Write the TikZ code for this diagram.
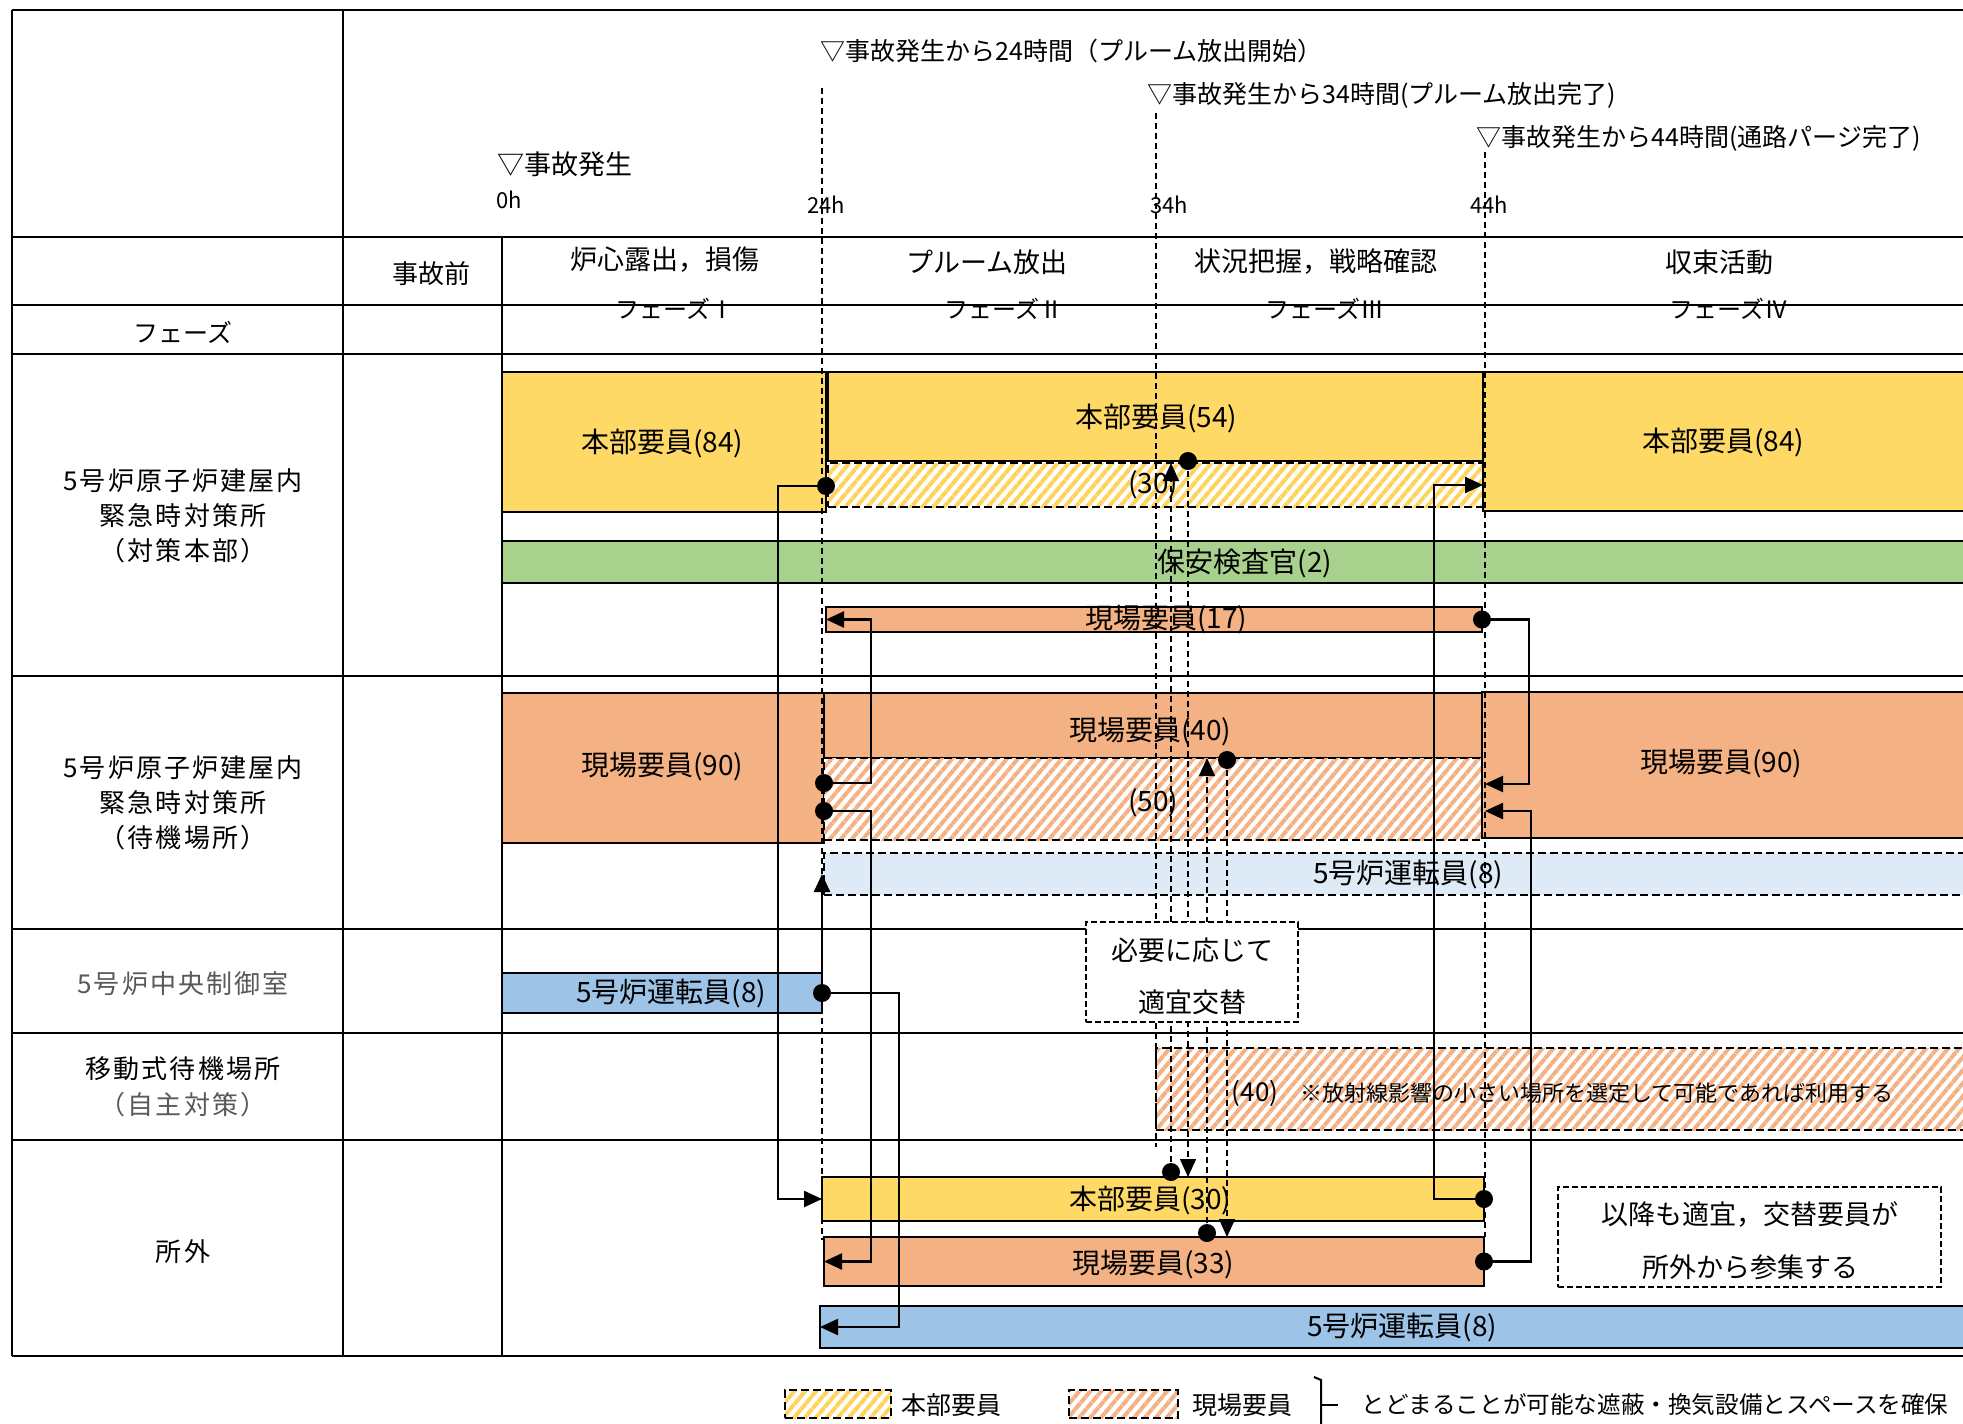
\documentclass[tikz,border=0pt]{standalone}
\usepackage{fontspec}
\setmainfont{Noto Sans CJK JP}
\newfontfamily\lblfont[LetterSpace=8]{Noto Sans CJK JP}
\usetikzlibrary{arrows.meta,patterns.meta}
\definecolor{cyel}{HTML}{FFD966}
\definecolor{cgrn}{HTML}{A9D18E}
\definecolor{csal}{HTML}{F4B183}
\definecolor{clbl}{HTML}{DEEBF7}
\definecolor{cblu}{HTML}{9DC3E6}
\definecolor{hyel}{HTML}{FFD35A}
\definecolor{hsal}{HTML}{F4B183}
\definecolor{cgray}{HTML}{595959}
\newcommand{\myfs}[1]{\fontsize{#1}{#1}\selectfont}
\newcommand{\barbox}[6]{%
  \pgfmathsetmacro{\bxc}{(#2+#4)/2}%
  \pgfmathsetmacro{\byc}{(#3+#5)/2}%
  \pgfmathsetmacro{\bxw}{(#4-#2)/2}%
  \pgfmathsetmacro{\byh}{(#5-#3)/2}%
  \node[#6, minimum width=\bxw pt, minimum height=\byh pt] (#1) at (\bxc,\byc) {};}
\tikzset{
  barb/.style={rectangle, draw=black, line width=1pt, inner sep=0pt, outer sep=0pt},
  dashb/.style={barb, dash pattern=on 4pt off 2pt},
  hatchY/.style={dashb, preaction={fill=white}, pattern={Lines[angle=50,distance=4.2pt,line width=2pt]}, pattern color=hyel},
  hatchS/.style={dashb, preaction={fill=white}, pattern={Lines[angle=50,distance=4.2pt,line width=2pt]}, pattern color=hsal},
  tgrid/.style={line width=1.4pt, black},
  tline/.style={line width=0.6pt, dash pattern=on 3pt off 2pt},
  conn/.style={line width=1.2pt, -{Triangle[length=9pt,width=8pt]}},
  dconn/.style={line width=0.7pt, dash pattern=on 3pt off 2pt, -{Triangle[length=9pt,width=8pt]}},
  lbl/.style={inner sep=0pt, font=\myfs{14pt}},
  tmark/.style={anchor=west, inner sep=0pt, font=\myfs{12.5pt}},
  hrs/.style={anchor=west, inner sep=0pt, font=\myfs{11pt}},
  ph/.style={inner sep=0pt, font=\myfs{13.5pt}},
  phn/.style={inner sep=0pt, font=\myfs{12pt}},
  rowl/.style={inner sep=0pt, align=center, font=\lblfont\fontsize{13pt}{17.5pt}\selectfont},
  notet/.style={inner sep=0pt, font=\myfs{13.5pt}},
  dotc/.style={fill=black},
}
\begin{document}
\begin{tikzpicture}[x=0.5pt,y=-0.5pt]
\useasboundingbox (0,0) rectangle (1963,1423);
\fill[white] (0,0) rectangle (1963,1423);
\clip (0,0) rectangle (1963,1423);

% ---------- table grid ----------
\foreach \yy in {10,237,305,354,676,929,1033,1140,1356}
  \draw[tgrid] (12,\yy) -- (1975,\yy);
\draw[tgrid] (12,10) -- (12,1356);
\draw[tgrid] (343,10) -- (343,1356);
\draw[tgrid] (502,237) -- (502,1356);

% ---------- header texts ----------
\node[tmark] (m24) at (820,51) {▽事故発生から24時間（プルーム放出開始）};
\node[tmark] (m34) at (1147,95) {▽事故発生から34時間(プルーム放出完了)};
\node[tmark] (m44) at (1476,138) {▽事故発生から44時間(通路パージ完了)};
\node[tmark, font=\myfs{13.5pt}] (m0) at (497,164) {▽事故発生};
\node[hrs] (h0) at (496,200) {0h};
\node[hrs] (h24) at (807,205) {24h};
\node[hrs] (h34) at (1150,205) {34h};
\node[hrs] (h44) at (1470,205) {44h};

\node[ph] (p1) at (665,260) {炉心露出，損傷};
\node[ph] (p2) at (987,262) {プルーム放出};
\node[ph] (p3) at (1316,262) {状況把握，戦略確認};
\node[ph] (p4) at (1719,262) {収束活動};
\node[phn] (f1) at (675,309) {フェーズⅠ};
\node[phn] (f2) at (1004,309) {フェーズⅡ};
\node[phn] (f3) at (1325,309) {フェーズⅢ};
\node[phn] (f4) at (1729,309) {フェーズⅣ};
\node[ph, font=\myfs{13pt}] (pre) at (431,274) {事故前};
\node[ph, font=\myfs{12.5pt}] (fz) at (183,332) {フェーズ};

% ---------- row labels ----------
\node[rowl] (r1) at (183,516) {5号炉原子炉建屋内\\緊急時対策所\\（対策本部）};
\node[rowl] (r2) at (183,803) {5号炉原子炉建屋内\\緊急時対策所\\（待機場所）};
\node[rowl, text=cgray] (r3) at (183,984) {5号炉中央制御室};
\node[rowl] (r4) at (183,1069) {移動式待機場所};
\node[rowl, text=cgray] (r4b) at (183,1105) {（自主対策）};
\node[rowl] (r5) at (183,1252) {所外};

% ---------- bars: row 1 ----------
\barbox{hqL}{502}{372}{826}{512}{barb,fill=cyel}
\barbox{hq54}{828}{372}{1483}{461}{barb,fill=cyel}
\barbox{h30}{828}{463}{1483}{507}{hatchY}
\barbox{hqR}{1483}{372}{1980}{511}{barb,fill=cyel}
\barbox{sec}{502}{541}{1980}{583}{barb,fill=cgrn}
\barbox{gen17}{826}{607}{1482}{632}{barb,fill=csal}
\node[lbl] (thqL) at (662,443) {本部要員(84)};
\node[lbl] (thq54) at (1156,418) {本部要員(54)};
\node[lbl] (th30) at (1153,485) {(30)};
\node[lbl] (thqR) at (1723,442) {本部要員(84)};
\node[lbl] (tsec) at (1245,563) {保安検査官(2)};
\node[lbl] (tgen17) at (1166,620) {現場要員(17)};

% ---------- bars: row 2 ----------
\barbox{genL}{502}{693}{824}{843}{barb,fill=csal}
\barbox{gen40}{824}{693}{1483}{758}{barb,fill=csal}
\barbox{h50}{824}{758}{1483}{840}{hatchS}
\barbox{genR}{1482}{692}{1980}{838}{barb,fill=csal}
\barbox{op8a}{824}{853}{1980}{895}{dashb,fill=clbl}
\node[lbl] (tgenL) at (662,767) {現場要員(90)};
\node[lbl] (tgen40) at (1150,732) {現場要員(40)};
\node[lbl] (th50) at (1153,803) {(50)};
\node[lbl] (tgenR) at (1721,764) {現場要員(90)};
\node[lbl] (top8a) at (1408,874) {5号炉運転員(8)};

% ---------- bars: row 3, 4 ----------
\barbox{op8c}{502}{973}{822}{1013}{barb,fill=cblu}
\node[lbl] (top8c) at (671,993) {5号炉運転員(8)};
\barbox{h40}{1156}{1048}{1980}{1130}{hatchS}
\node[lbl, font=\myfs{13pt}] (th40) at (1255,1093) {(40)};
\node[anchor=west, inner sep=0pt, font=\myfs{11pt}] (tnote) at (1300,1093) {※放射線影響の小さい場所を選定して可能であれば利用する};

% ---------- bars: row 5 ----------
\barbox{hq30}{822}{1177}{1484}{1221}{barb,fill=cyel}
\barbox{gen33}{824}{1237}{1484}{1286}{barb,fill=csal}
\barbox{op8b}{820}{1306}{1980}{1348}{barb,fill=cblu}
\node[lbl] (thq30) at (1150,1200) {本部要員(30)};
\node[lbl] (tgen33) at (1153,1265) {現場要員(33)};
\node[lbl] (top8b) at (1402,1327) {5号炉運転員(8)};

% ---------- time lines ----------
\draw[tline] (822,88) -- (822,1240);
\draw[tline] (1156,113) -- (1156,1147);
\draw[tline] (1485,152) -- (1485,1237);

% ---------- coordinates ----------
\coordinate (d1) at (826,486);
\coordinate (d2) at (824,783);
\coordinate (d3) at (824,811);
\coordinate (t6) at (1485,784);
\coordinate (t7) at (1485,811);
\coordinate (a1) at (1171,1172);
\coordinate (a2) at (1171,463);
\coordinate (b1) at (1188,461);
\coordinate (b2) at (1188,1177);
\coordinate (c1) at (1207,1233);
\coordinate (c2) at (1207,758);
\coordinate (e1) at (1227,760);
\coordinate (e2) at (1227,1237);

% ---------- dashed connectors ----------
\draw[dconn] (a1) -- (a2);
\draw[dconn] (b1) -- (b2);
\draw[dconn] (c1) -- (c2);
\draw[dconn] (e1) -- (e2);
\foreach \p in {a1,b1,c1,e1} \fill[dotc] (\p) circle (4.5pt);

% ---------- solid connectors ----------
\draw[conn] (d1) -- ++(-48,0) |- (hq30.west);
\draw[conn] (d2) -- ++(47,0) |- (gen17.west);
\draw[conn] (d3) -- ++(47,0) |- (gen33.west);
\draw[conn] (op8c.east) -- ++(77,0) |- (op8b.west);
\draw[conn] (op8c.east) -- (op8c.east |- op8a.west);
\draw[conn] (hq30.east) -- ++(-50,0) |- (h30.east);
\draw[conn] (gen17.east) -- ++(47,0) |- (t6);
\draw[conn] (gen33.east) -- ++(47,0) |- (t7);
\foreach \p in {d1,d2,d3,op8c.east,hq30.east,gen17.east,gen33.east}
  \fill[dotc] (\p) circle (4.5pt);

% ---------- note boxes ----------
\barbox{swap}{1086}{922}{1298}{1022}{barb,line width=0.7pt,dash pattern=on 3pt off 1.5pt,fill=white}
\node[notet] (sw1) at (1192,950) {必要に応じて};
\node[notet] (sw2) at (1192,1002) {適宜交替};
\barbox{later}{1558}{1187}{1941}{1287}{barb,line width=0.7pt,dash pattern=on 3pt off 1.5pt,fill=white}
\node[notet] (la1) at (1750,1215) {以降も適宜，交替要員が};
\node[notet] (la2) at (1750,1267) {所外から参集する};

% ---------- legend ----------
\barbox{lgY}{785}{1390}{891}{1418}{hatchY}
\node[anchor=west, inner sep=0pt, font=\myfs{12.5pt}] (lgYt) at (901,1405) {本部要員};
\barbox{lgS}{1069}{1390}{1178}{1418}{hatchS}
\node[anchor=west, inner sep=0pt, font=\myfs{12.5pt}] (lgSt) at (1192,1405) {現場要員};
\coordinate (brT) at (1321,1380);
\coordinate (brB) at (1321,1425);
\draw[line width=1pt] (1314,1377) -- (brT) -- (brB);
\draw[line width=1pt] (1321,1405) -- (1338,1405);
\node[anchor=west, inner sep=0pt, font=\myfs{11.8pt}] (lgt) at (1361,1405) {とどまることが可能な遮蔽・換気設備とスペースを確保};
\end{tikzpicture}
\end{document}
